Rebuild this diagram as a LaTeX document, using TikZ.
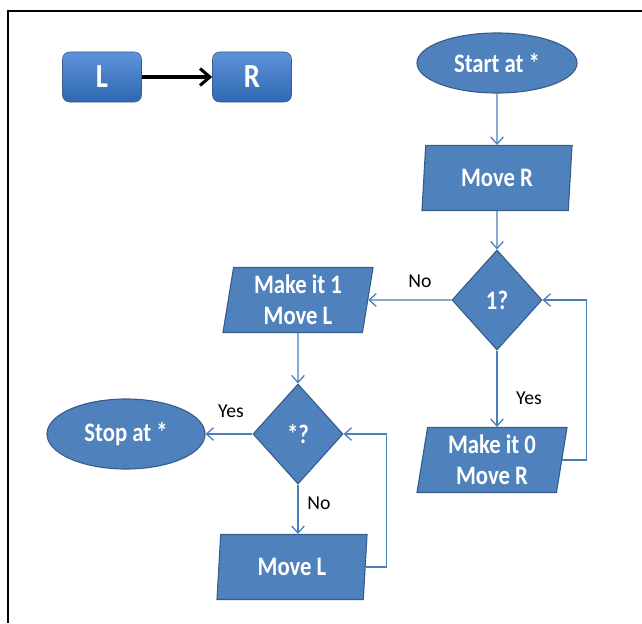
\documentclass[tikz,border=0pt]{standalone}
\usepackage{fontspec}
\setmainfont{Carlito}
\newfontfamily\boxfont[FakeStretch=0.85]{Carlito}
\usetikzlibrary{arrows.meta, shapes.geometric}

\definecolor{flowblue}{HTML}{4F81BD}
\definecolor{flowedge}{HTML}{385D8A}
\definecolor{linkblue}{HTML}{4A7EBB}
\definecolor{keytop}{HTML}{5E93D8}
\definecolor{keybot}{HTML}{2E67B3}

\begin{document}
\begin{tikzpicture}[
    x=0.025cm, y=-0.025cm,
    blk/.style={draw=flowedge, fill=flowblue, text=white, line width=0.8pt,
                align=center, font=\boxfont\bfseries\fontsize{19}{22}\selectfont},
    term/.style={blk, ellipse, inner sep=0pt},
    io/.style={blk, trapezium, trapezium left angle=78, trapezium right angle=102,
               trapezium stretches body, minimum width=3.75cm, minimum height=1.625cm,
               inner sep=0pt},
    test/.style={blk, diamond, minimum width=2.25cm, minimum height=2.5cm, inner sep=0pt},
    key/.style={draw=flowedge, rounded corners=5pt, top color=keytop, bottom color=keybot,
                text=white, minimum width=1.975cm, minimum height=1.25cm,
                font=\boxfont\bfseries\fontsize{24}{26}\selectfont},
    arr/.style={-{Straight Barb[length=5pt, width=9pt]}, draw=linkblue, line width=0.9pt},
    lbl/.style={font=\fontsize{14}{16}\selectfont}
]
\useasboundingbox (0,0) rectangle (642,623);
% Frame
\draw[line width=1.6pt] (8,623) -- (8,11) -- (642,11);

% Legend
\node[key] (lkey) at (102,77) {L};
\node[key] (rkey) at (252,77) {R};
\draw[-{Straight Barb[length=7pt, width=12pt]}, line width=2.2pt] (lkey) -- (rkey);

% Right column
\node[term, minimum width=4cm, minimum height=1.5cm] (start) at (497,63) {Start at *};
\node[io] (mover) at (497,178) {Move R};
\node[test] (one) at (497,300) {1?};
\node[io] (make0) at (492,460) {Make it 0\\Move R};

% Left column
\node[io] (make1) at (298,300) {Make it 1\\Move L};
\node[test] (star) at (298,434) {*?};
\node[term, minimum width=3.95cm, minimum height=1.75cm] (stop) at (126,434) {Stop at *};
\node[io] (movel) at (292,567) {Move L};

% Labels
\node[lbl] (no1) at (420,281) {No};
\node[lbl] (yes1) at (529,398) {Yes};
\node[lbl] (yes2) at (231,411) {Yes};
\node[lbl] (no2) at (319,503) {No};

\draw[arr] (start) -- (mover);
\draw[arr] (mover) -- (one);
\draw[arr] (one) -- (make1);
\draw[arr] (one.south) -- (one.south |- make0.north);
\draw[arr] (make0.east) -| ([xshift=1.1cm]one.east) -- (one.east);
\draw[arr] (make1) -- (star);
\draw[arr] (star) -- (stop);
\draw[arr] (star.south) -- (star.south |- movel.north);
\draw[arr] (movel.east) -| ([xshift=1.075cm]star.east) -- (star.east);
\end{tikzpicture}
\end{document}
